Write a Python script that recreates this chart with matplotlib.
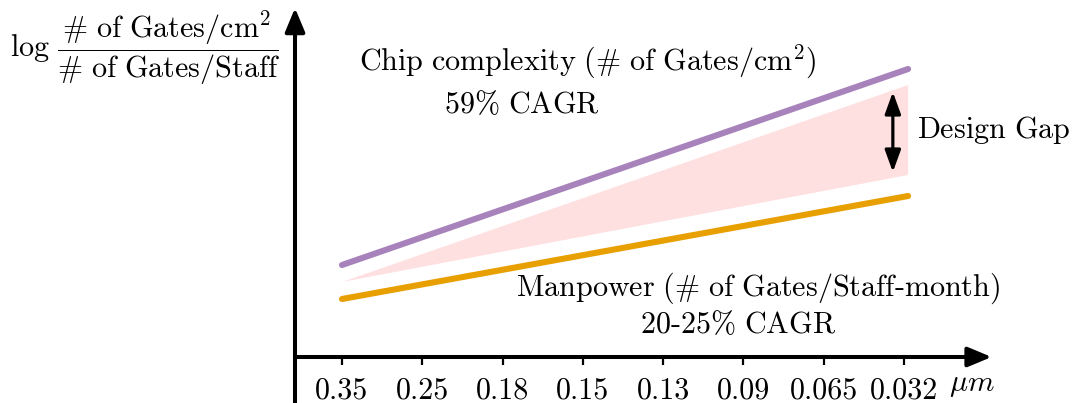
import matplotlib
matplotlib.use("Agg")
import matplotlib.pyplot as plt
import numpy as np

plt.rcParams['mathtext.fontset'] = 'cm'
plt.rcParams['font.family'] = ['cmr10', 'DejaVu Serif']
plt.rcParams['axes.formatter.use_mathtext'] = True

# data
tick_labels = ['0.35', '0.25', '0.18', '0.15', '0.13', '0.09', '0.065', '0.032']
line_x = [0.0, 7.05]
chip_y = [0.92, 2.88]        # chip complexity, 59% CAGR
manpower_y = [0.58, 1.61]    # manpower, 20-25% CAGR
gap_x = [0.0, 7.05, 7.05]
gap_y = [0.75, 2.72, 1.82]
gap_arrow_x = 6.86
gap_arrow_y = [2.65, 1.85]

purple = '#a882bb'
orange = '#e8a000'
fs = 21.7

fig = plt.figure(figsize=(10.72, 4.03), dpi=100)
ax = fig.add_axes([0, 0, 1, 1])
ax.set_xlim(-4.259, 9.091)
ax.set_ylim(-0.46, 3.57)

# axes drawn as arrows
for s in ['top', 'right']:
    ax.spines[s].set_visible(False)
ax.spines['left'].set_position(('data', -0.585))
ax.spines['left'].set_bounds(-0.45, 3.3)
ax.spines['bottom'].set_position(('data', 0))
ax.spines['bottom'].set_bounds(-0.585, 7.9)
for s in ['left', 'bottom']:
    ax.spines[s].set_linewidth(2.9)
head = '-|>,head_length=0.6,head_width=0.25'
ax.annotate('', xy=(-0.585, 3.49), xytext=(-0.585, 3.2),
            arrowprops=dict(arrowstyle=head, lw=2.9, color='k', mutation_scale=24,
                            shrinkA=0, shrinkB=0))
ax.annotate('', xy=(8.09, 0), xytext=(7.8, 0),
            arrowprops=dict(arrowstyle=head, lw=2.9, color='k', mutation_scale=24,
                            shrinkA=0, shrinkB=0))

ax.set_yticks([])
ax.set_xticks(range(len(tick_labels)))
ax.set_xticklabels(tick_labels, fontsize=fs)
ax.tick_params(axis='x', direction='out', length=6, width=1.6, pad=8)

ax.fill(gap_x, gap_y, color='#ffa0a4', alpha=0.32, lw=0)
ax.plot(line_x, chip_y, color=purple, lw=4.4, solid_capstyle='round')
ax.plot(line_x, manpower_y, color=orange, lw=4.4, solid_capstyle='round')

ax.annotate('', xy=(gap_arrow_x, gap_arrow_y[0]), xytext=(gap_arrow_x, gap_arrow_y[1]),
            arrowprops=dict(arrowstyle='<|-|>,head_length=0.55,head_width=0.2', lw=2.3,
                            color='k', mutation_scale=24, shrinkA=0, shrinkB=0))

ax.text(7.16, 2.27, r'$\mathrm{Design\ Gap}$', fontsize=fs, ha='left', va='center')
ax.text(3.06, 2.95, r'$\mathrm{Chip\ complexity\ (\#\ of\ Gates/cm^2)}$',
        fontsize=fs, ha='center', va='center')
ax.text(2.24, 2.52, r'$\mathrm{59\%\ CAGR}$', fontsize=fs, ha='center', va='center')
ax.text(5.18, 0.69, r'$\mathrm{Manpower\ (\#\ of\ Gates/Staff}$-$\mathrm{month)}$',
        fontsize=fs, ha='center', va='center')
ax.text(4.93, 0.32, r'$\mathrm{20}$-$\mathrm{25\%\ CAGR}$', fontsize=fs, ha='center', va='center')
ax.text(-2.45, 3.09, r'$\log\,\dfrac{\mathrm{\#\ of\ Gates/cm^2}}{\mathrm{\#\ of\ Gates/Staff}}$',
        fontsize=fs, ha='center', va='center')
ax.text(7.85, -0.28, r'$\mu m$', fontsize=fs, ha='center', va='center')

fig.savefig('out.png', dpi=100)
